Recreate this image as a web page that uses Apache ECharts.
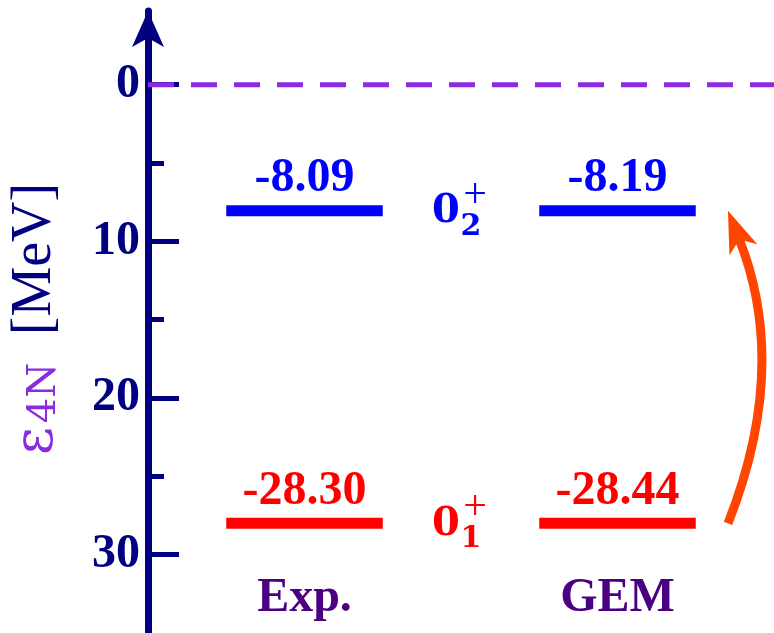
<!DOCTYPE html>
<html><head><meta charset="utf-8">
<script src="https://cdn.jsdelivr.net/npm/echarts@6/dist/echarts.min.js"></script>
<style>html,body{margin:0;padding:0;background:#fff}#c{width:774px;height:633px}</style>
</head><body><div id="c"></div>
<script>
// ---- data ----
const methods = ['Exp.', 'GEM'];
const methodX = [1, 3];
const stateLabels = ['0', '0'];
const stateSub = ['2', '1'];
const stateSup = ['+', '+'];
const expEnergies = [-8.09, -28.30];
const gemEnergies = [-8.19, -28.44];
const levelDepth = [8.05, 28.0];   // depth of each level on the ε4N axis as drawn
const majorTicks = [0, 10, 20, 30];
const minorTicks = [5, 15, 25];
const thresholdLine = [[0, 0], [4, 0]];

// ---- styles ----
const NAVY = '#000080', PURPLE = '#8a2be2', INDIGO = '#4b0082';
const LEVEL_COLORS = ['#0000ff', '#ff0000'];
const ARROW_COLOR = '#ff4500';
const SERIF = '"Liberation Serif", "Times New Roman", serif';

const energies = [expEnergies, gemEnergies];
const levelData = [];
methods.forEach((m, mi) => {
  levelDepth.forEach((d, li) => levelData.push([methodX[mi], d, energies[mi][li], li]));
});
const stateData = levelDepth.map((d, li) => [2, d, li]);
const methodData = methods.map((m, i) => [methodX[i], 32.8, i]);

const chart = echarts.init(document.getElementById('c'), null, {renderer: 'canvas'});
const yBase = {type: 'value', inverse: true, min: -4.7, max: 35, position: 'left', splitLine: {show: false}};
chart.setOption({
  animation: false,
  backgroundColor: '#fff',
  grid: {left: 148, right: 0, top: 11, bottom: 0, containLabel: false},
  xAxis: {type: 'value', min: 0, max: 4, show: false},
  yAxis: [
    Object.assign({}, yBase, {
      axisLine: {show: true, lineStyle: {color: NAVY, width: 7}, symbol: ['none', 'arrow'], symbolSize: [24, 36]},
      axisTick: {show: true, inside: true, length: 31, lineStyle: {color: NAVY, width: 5}, customValues: majorTicks},
      axisLabel: {show: true, customValues: majorTicks, color: NAVY, fontFamily: SERIF, fontWeight: 'bold', fontSize: 48, margin: 8}
    }),
    Object.assign({}, yBase, {
      axisLine: {show: false},
      axisTick: {show: true, inside: true, length: 16, lineStyle: {color: NAVY, width: 5}, customValues: minorTicks},
      axisLabel: {show: false}
    })
  ],
  graphic: [
    {type: 'text', x: 35, y: 259, rotation: Math.PI / 2,
     style: {text: '[MeV]', font: '56px ' + SERIF, fill: NAVY, align: 'center', verticalAlign: 'middle'}},
    {type: 'text', x: 38, y: 441, rotation: Math.PI / 2,
     style: {text: 'ε', font: '54px "DejaVu Serif", serif', fill: PURPLE, align: 'center', verticalAlign: 'middle'}},
    {type: 'text', x: 45, y: 393, rotation: Math.PI / 2,
     style: {text: '4N', font: '40px "DejaVu Serif", serif', fill: PURPLE, align: 'center', verticalAlign: 'middle'}}
  ],
  series: [
    {
      type: 'line', data: thresholdLine, symbol: 'none', silent: true,
      lineStyle: {color: PURPLE, width: 5, type: [26, 17]}, z: 1
    },
    {
      type: 'custom', data: levelData, silent: true,
      renderItem(params, api) {
        const x = api.value(0), y = api.value(1), e = api.value(2), li = api.value(3);
        const p0 = api.coord([x - 0.5, y]), p1 = api.coord([x + 0.5, y]);
        const col = LEVEL_COLORS[li];
        return {type: 'group', children: [
          {type: 'line', shape: {x1: p0[0], y1: p0[1], x2: p1[0], y2: p1[1]},
           style: {stroke: col, lineWidth: 11, lineCap: 'butt'}},
          {type: 'text', x: (p0[0] + p1[0]) / 2, y: p0[1] - 32,
           style: {text: e.toFixed(2), fill: col, font: 'bold 48px ' + SERIF, align: 'center', verticalAlign: 'middle'}}
        ]};
      }
    },
    {
      type: 'custom', data: stateData, silent: true,
      renderItem(params, api) {
        const li = api.value(2);
        const p = api.coord([api.value(0), api.value(1)]);
        const col = LEVEL_COLORS[li];
        return {type: 'group', children: [
          {type: 'text', x: p[0] - 15, y: p[1] + 1,
           style: {text: stateLabels[li], fill: col, font: 'bold 40px "DejaVu Serif", serif', align: 'center', verticalAlign: 'middle'}},
          {type: 'text', x: p[0] + 14, y: p[1] - 15,
           style: {text: stateSup[li], fill: col, font: '42px ' + SERIF, align: 'center', verticalAlign: 'middle'}},
          {type: 'text', x: p[0] + 10, y: p[1] + 16,
           style: {text: stateSub[li], fill: col, font: 'bold 30px "DejaVu Serif", serif', align: 'center', verticalAlign: 'middle'}}
        ]};
      }
    },
    {
      type: 'custom', data: methodData, silent: true,
      renderItem(params, api) {
        const p = api.coord([api.value(0), api.value(1)]);
        return {type: 'text', x: p[0], y: p[1],
          style: {text: methods[api.value(2)], fill: INDIGO, font: 'bold 48px ' + SERIF, align: 'center', verticalAlign: 'middle'}};
      }
    },
    {
      type: 'custom', data: [[3, 1, 0]], silent: true,
      renderItem(params, api) {
        const gx = api.value(0);
        const from = api.coord([gx + 0.706, levelDepth[api.value(1)]]);
        const to = api.coord([gx + 0.706, levelDepth[api.value(2)]]);
        const cp = api.coord([gx + 1.10, (levelDepth[0] + levelDepth[1]) / 2]);
        let dx = to[0] - cp[0], dy = to[1] - cp[1];
        const len = Math.hypot(dx, dy); dx /= len; dy /= len;
        const nx = -dy, ny = dx;
        const L = 42, hw = 15, notch = 11;
        const back = [to[0] - dx * L, to[1] - dy * L];
        const nt = [to[0] - dx * (L - notch), to[1] - dy * (L - notch)];
        return {type: 'group', children: [
          {type: 'bezierCurve', shape: {x1: from[0], y1: from[1], x2: nt[0], y2: nt[1], cpx1: cp[0], cpy1: cp[1]},
           style: {stroke: ARROW_COLOR, lineWidth: 9, fill: null, lineCap: 'butt'}},
          {type: 'polygon', shape: {points: [to, [back[0] + nx * hw, back[1] + ny * hw], nt, [back[0] - nx * hw, back[1] - ny * hw]]},
           style: {fill: ARROW_COLOR}}
        ]};
      }
    }
  ]
});
</script>
</body></html>
